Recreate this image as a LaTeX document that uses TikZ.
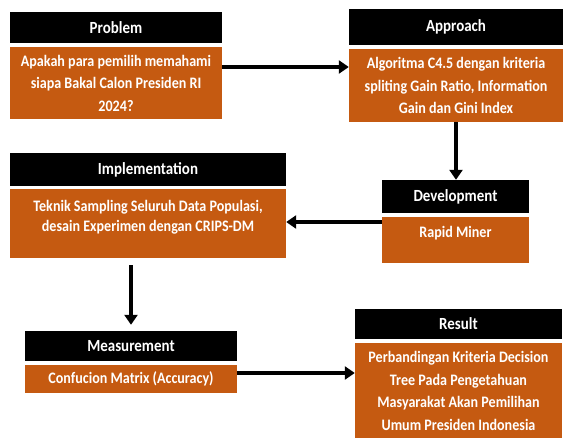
\documentclass[tikz,border=0pt]{standalone}
\usepackage{fontspec}
\setmainfont[FakeStretch=0.88]{Carlito}
\usetikzlibrary{arrows.meta}
\definecolor{burnt}{HTML}{C55A11}
\tikzset{
  hdr/.style={fill=black, text=white, inner sep=0pt, font=\bfseries\fontsize{17}{20}\selectfont},
  bodybox/.style={fill=burnt, text=white, inner sep=0pt, align=center,
                  font=\bfseries\fontsize{16}{22.5}\selectfont},
  bodytext/.style={text=white, inner sep=0pt, align=center,
                  font=\bfseries\fontsize{16}{20}\selectfont},
  arr/.style={line width=4pt, -{Triangle[width=13pt,length=10pt]}}
}
\begin{document}
\begin{tikzpicture}[x=1pt,y=-1pt]
\useasboundingbox (0,0) rectangle (563,437);
% Problem
\node[hdr, minimum width=212pt, minimum height=31pt] (pH) at (116,27.5) {Problem};
\node[bodybox, minimum width=212pt, minimum height=72pt] (pB) at (116,83)
  {Apakah para pemilih memahami\\siapa Bakal Calon Presiden RI\\2024?};
% Approach
\node[hdr, minimum width=214pt, minimum height=36pt] (aH) at (456,27) {Approach};
\node[bodybox, minimum width=214pt, minimum height=73pt] (aB) at (456,85.5)
  {Algoritma C4.5 dengan kriteria\\spliting Gain Ratio, Information\\Gain dan Gini Index};
% Implementation
\node[hdr, minimum width=276pt, minimum height=33pt] (iH) at (148,169.5) {Implementation};
\node[bodybox, minimum width=276pt, minimum height=69pt] (iB) at (148,223.5) {};
\node[bodytext] (iT) at (148,217)
  {Teknik Sampling Seluruh Data Populasi,\\desain Experimen dengan CRIPS-DM};
% Development
\node[hdr, minimum width=147pt, minimum height=33pt] (dH) at (455.5,196.5) {Development};
\node[bodybox, minimum width=147pt, minimum height=46pt] (dB) at (455.5,240) {};
\node[bodytext] (dT) at (455.5,233) {Rapid Miner};
% Measurement
\node[hdr, minimum width=212pt, minimum height=30pt] (mH) at (131,346) {Measurement};
\node[bodybox, minimum width=212pt, minimum height=28pt] (mB) at (131,379) {Confucion Matrix (Accuracy)};
% Result
\node[hdr, minimum width=207pt, minimum height=30pt] (rH) at (458.5,324) {Result};
\node[bodybox, minimum width=207pt, minimum height=96pt] (rB) at (458.5,391)
  {Perbandingan Kriteria Decision\\Tree Pada Pengetahuan\\Masyarakat Akan Pemilihan\\Umum Presiden Indonesia};
% Flow arrows
\draw[arr] ([yshift=16pt]pB.east) -- ([yshift=16pt]pB.east -| aB.west);
\draw[arr] (aB.south) -- (aB.south |- dH.north);
\draw[arr] ([yshift=18pt]dB.west) -- ([yshift=18pt]dB.west -| iB.east);
\draw[arr] ([yshift=-7pt]mH.north |- iB.south) -- ([yshift=6pt]mH.north);
\draw[arr] ([yshift=6pt]mB.east) -- ([yshift=6pt]mB.east -| rB.west);
\end{tikzpicture}
\end{document}
